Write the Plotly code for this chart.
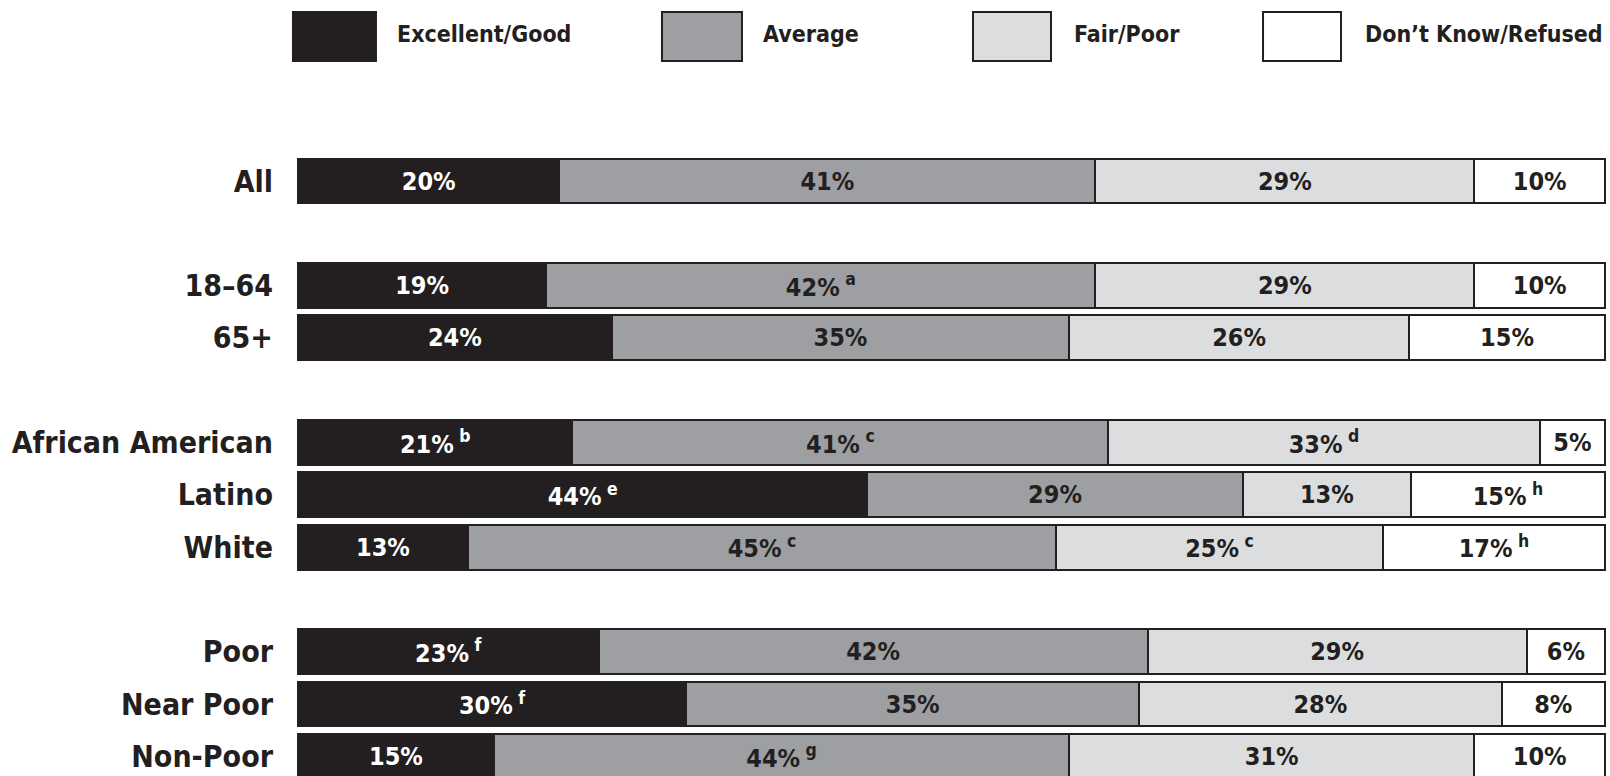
import plotly.graph_objects as go

ROWS = ["All", "18–64", "65+", "African American", "Latino", "White", "Poor", "Near Poor", "Non-Poor"]
ROW_ORDER = ["All", " ", "18–64", "65+", "  ", "African American", "Latino", "White", "   ",
             "Poor", "Near Poor", "Non-Poor"]
SERIES = ["Excellent/Good", "Average", "Fair/Poor", "Don’t Know/Refused"]

EXCELLENT = [20, 19, 24, 21, 44, 13, 23, 30, 15]
AVERAGE = [41, 42, 35, 41, 29, 45, 42, 35, 44]
FAIR = [29, 29, 26, 33, 13, 25, 29, 28, 31]
DONT_KNOW = [10, 10, 15, 5, 15, 17, 6, 8, 10]

EXCELLENT_NOTES = ["", "", "", "b", "e", "", "f", "f", ""]
AVERAGE_NOTES = ["", "a", "", "c", "", "c", "", "", "g"]
FAIR_NOTES = ["", "", "", "d", "", "c", "", "", ""]
DONT_KNOW_NOTES = ["", "", "", "", "h", "h", "", "", ""]

DARK = "#231f20"
COLORS = [DARK, "#9d9fa2", "#dcdddf", "#ffffff"]
TEXT_COLORS = ["#ffffff", DARK, DARK, DARK]
FONT = "DejaVu Sans Condensed, Liberation Sans Narrow, sans-serif"

W, H = 1610, 776
BAR_X0, BAR_X1 = 298, 1605   # pixels of 0% and 100%
PAD = 0.15                   # a little room so the outer borders are not clipped
UNIT = (BAR_X1 - BAR_X0) / 100
L = BAR_X0 - PAD * UNIT
R = W - (BAR_X1 + PAD * UNIT)

ROW0_Y = 181
PITCH = 52.3


def px_x(x):
    return (x - L) / (W - L - R)


def px_y(y):
    return 1 - y / H


values = [EXCELLENT, AVERAGE, FAIR, DONT_KNOW]
notes = [EXCELLENT_NOTES, AVERAGE_NOTES, FAIR_NOTES, DONT_KNOW_NOTES]
totals = [sum(v[i] for v in values) for i in range(len(ROWS))]

fig = go.Figure()
for name, vals, nts, color, tcolor in zip(SERIES, values, notes, COLORS, TEXT_COLORS):
    fig.add_trace(go.Bar(
        y=ROWS,
        x=[v / t * 100 for v, t in zip(vals, totals)],
        orientation="h",
        name=name,
        width=0.86,
        marker=dict(color=color, line=dict(color=DARK, width=2)),
        text=[f"{v}%" + (f"<sup> {n}</sup>" if n else "") for v, n in zip(vals, nts)],
        textposition="inside",
        insidetextanchor="middle",
        textangle=0,
        textfont=dict(family=FONT, size=25, weight=700, color=tcolor),
        hoverinfo="skip",
        showlegend=False,
    ))

# legend drawn as boxes + labels across the top
legend_boxes = [(293, 376), (662, 742), (973, 1051), (1263, 1341)]
legend_text_x = [395, 761, 1072, 1363]
for name, color, (x0, x1), tx in zip(SERIES, COLORS, legend_boxes, legend_text_x):
    fig.add_shape(
        type="rect", xref="paper", yref="paper",
        x0=px_x(x0), x1=px_x(x1), y0=px_y(61), y1=px_y(12),
        fillcolor=color, line=dict(color=DARK, width=2),
    )
    fig.add_annotation(
        xref="paper", yref="paper", x=px_x(tx), y=px_y(34),
        text=name, showarrow=False, xanchor="left", yanchor="middle",
        font=dict(family=FONT, size=23, weight=700, color=DARK),
    )

fig.update_layout(
    width=W, height=H,
    barmode="stack",
    margin=dict(l=L, r=R, t=0, b=0, autoexpand=False),
    paper_bgcolor="white",
    plot_bgcolor="white",
    uniformtext=dict(minsize=25, mode="show"),
)
fig.update_xaxes(range=[-PAD, 100 + PAD], visible=False, fixedrange=True, automargin=False)
fig.update_yaxes(
    type="category",
    categoryorder="array",
    categoryarray=ROW_ORDER,
    range=[(H - ROW0_Y) / PITCH, -ROW0_Y / PITCH],
    automargin=False,
    fixedrange=True,
    showgrid=False, zeroline=False, ticks="",
    ticklabelstandoff=22,
    tickfont=dict(family=FONT, size=30, weight=700, color=DARK),
)

# drop the page's default body margin so the figure fills the window exactly
fig.write_html(
    "out.html",
    config={"displayModeBar": False},
    post_script="document.body.style.margin='0';document.body.style.overflow='hidden';",
)
